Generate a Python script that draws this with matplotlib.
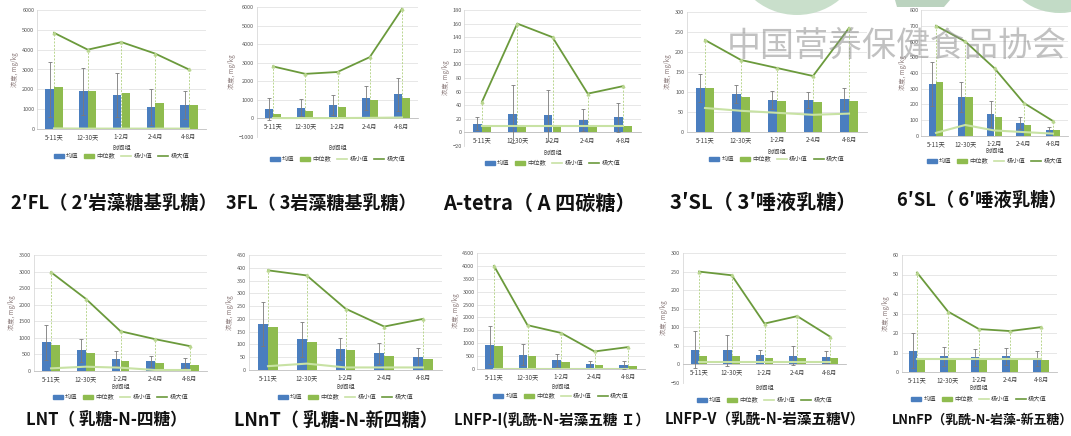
import matplotlib.pyplot as plt
import numpy as np
from matplotlib.patches import Patch, Ellipse, Polygon
from matplotlib.lines import Line2D

plt.rcParams['font.family'] = ['Noto Sans CJK SC', 'DejaVu Sans']

W, H = 1071, 436

groups = ['5-11天', '12-30天', '1-2月', '2-4月', '4-8月']
legend_labels = ['均值', '中位数', '极小值', '极大值']

# values per compound: mean, median, sd, min, max (mg/kg)
fl2_mean = [2000, 1900, 1700, 1100, 1200]
fl2_med = [2100, 1900, 1800, 1300, 1200]
fl2_sd = [1380, 1180, 1100, 900, 700]
fl2_min = [30, 20, 20, 20, 20]
fl2_max = [4850, 4000, 4380, 3800, 3000]

fl3_mean = [500, 580, 730, 1100, 1300]
fl3_med = [230, 400, 620, 980, 1100]
fl3_sd = [600, 450, 550, 630, 900]
fl3_min = [20, 20, 20, 30, 50]
fl3_max = [2800, 2400, 2500, 3300, 5900]

at_mean = [13, 27, 25, 18, 22]
at_med = [9, 9, 9, 9, 10]
at_sd = [9, 43, 37, 16, 21]
at_min = [10, 10, 10, 10, 10]
at_max = [45, 160, 140, 57, 68]

sl3_mean = [110, 95, 80, 80, 83]
sl3_med = [110, 87, 78, 76, 78]
sl3_sd = [35, 23, 22, 20, 27]
sl3_min = [60, 53, 48, 43, 46]
sl3_max = [230, 180, 160, 140, 260]

sl6_mean = [330, 250, 140, 80, 40]
sl6_med = [340, 250, 120, 70, 35]
sl6_sd = [140, 95, 80, 38, 20]
sl6_min = [20, 70, 35, 25, 15]
sl6_max = [700, 600, 430, 210, 95]

lnt_mean = [870, 620, 370, 290, 250]
lnt_med = [790, 550, 290, 250, 190]
lnt_sd = [530, 340, 220, 170, 150]
lnt_min = [80, 130, 100, 30, 30]
lnt_max = [2980, 2180, 1200, 960, 750]

lnnt_mean = [180, 120, 83, 65, 50]
lnnt_med = [170, 110, 80, 55, 45]
lnnt_sd = [85, 68, 44, 40, 37]
lnnt_min = [15, 25, 10, 10, 10]
lnnt_max = [390, 370, 240, 170, 200]

lnfp1_mean = [920, 550, 340, 180, 160]
lnfp1_med = [880, 490, 290, 140, 120]
lnfp1_sd = [740, 410, 260, 140, 150]
lnfp1_min = [10, 10, 10, 10, 10]
lnfp1_max = [4000, 1700, 1400, 680, 850]

lnfp5_mean = [40, 38, 26, 24, 20]
lnfp5_med = [22, 23, 16, 18, 17]
lnfp5_sd = [50, 42, 12, 25, 15]
lnfp5_min = [7, 7, 7, 7, 7]
lnfp5_max = [250, 240, 110, 130, 75]

lnnfp_mean = [11, 8, 7.5, 8, 7]
lnnfp_med = [6, 6, 6, 6, 6]
lnnfp_sd = [9, 5, 4.5, 4.5, 4]
lnnfp_min = [6.5, 6.5, 6.5, 6.5, 6.5]
lnnfp_max = [51, 31, 22, 21, 23]

titles = ['2′FL（ 2′岩藻糖基乳糖）', '3FL（ 3岩藻糖基乳糖）', 'A-tetra（ A 四碳糖）',
          '3′SL（ 3′唾液乳糖）', '6′SL（ 6′唾液乳糖）', 'LNT（ 乳糖-N-四糖）',
          'LNnT（ 乳糖-N-新四糖）', 'LNFP-I(乳酰-N-岩藻五糖 Ｉ）', 'LNFP-V（乳酰-N-岩藻五糖V）',
          'LNnFP（乳酰-N-岩藻-新五糖）']

series = [
    (fl2_mean, fl2_med, fl2_sd, fl2_min, fl2_max),
    (fl3_mean, fl3_med, fl3_sd, fl3_min, fl3_max),
    (at_mean, at_med, at_sd, at_min, at_max),
    (sl3_mean, sl3_med, sl3_sd, sl3_min, sl3_max),
    (sl6_mean, sl6_med, sl6_sd, sl6_min, sl6_max),
    (lnt_mean, lnt_med, lnt_sd, lnt_min, lnt_max),
    (lnnt_mean, lnnt_med, lnnt_sd, lnnt_min, lnnt_max),
    (lnfp1_mean, lnfp1_med, lnfp1_sd, lnfp1_min, lnfp1_max),
    (lnfp5_mean, lnfp5_med, lnfp5_sd, lnfp5_min, lnfp5_max),
    (lnnfp_mean, lnnfp_med, lnnfp_sd, lnnfp_min, lnnfp_max),
]

# pixel layout: first/last category x, top/bottom y, y range, step, title pos & size, xlabel y, legend y
layout = [
    (54, 189, 10, 129, 0, 6000, 1000, 114, 203, 13.2, 148, 156),
    (273, 402, 7, 137, -1000, 6000, 1000, 321, 203, 13, 148, 159),
    (482, 623, 10, 146, -20, 180, 20, 539, 203, 14.5, 153, 163),
    (705, 849, 12, 132, 0, 300, 50, 763, 202, 14.5, 152, 159),
    (936, 1053, 10, 136, 0, 800, 100, 982, 200, 13.2, 151, 161),
    (51, 190, 255, 371, 0, 3500, 500, 106, 420, 12, 387, 397),
    (268, 423, 255, 370, 0, 450, 50, 336, 420, 13, 387, 397),
    (494, 628, 253, 369, 0, 4500, 500, 552, 420, 10.5, 387, 396),
    (699, 830, 253, 383, -50, 300, 50, 765, 420, 10.5, 388, 400),
    (917, 1041, 255, 372, 0, 60, 10, 982, 420, 9.3, 388, 399),
]

blue = '#4a7ebf'
green = '#8fbc4f'
max_c = '#6b9a3c'
min_c = '#c8e2a4'
drop_c = '#b9d68f'

fig = plt.figure(figsize=(W / 100, H / 100), dpi=100)
ov = fig.add_axes([0, 0, 1, 1], zorder=10)
ov.set_xlim(0, W)
ov.set_ylim(H, 0)
ov.axis('off')

x = np.arange(len(groups))
handles = [Patch(color=blue), Patch(color=green),
           Line2D([], [], color=min_c, lw=1.2), Line2D([], [], color=max_c, lw=1.2)]

for (mean, med, sd, mn, mx), lay, title in zip(series, layout, titles):
    c0, c4, yt, yb, ymin, ymax, step, tx, ty, tfs, xly, lgy = lay
    sp = (c4 - c0) / 4
    left, right = c0 - sp / 2, c4 + sp / 2
    ax = fig.add_axes([left / W, 1 - yb / H, (right - left) / W, (yb - yt) / H])
    ax.bar(x - 0.13, mean, 0.25, color=blue, zorder=3)
    ax.bar(x + 0.13, med, 0.25, color=green, zorder=3)
    ax.errorbar(x - 0.13, mean, yerr=sd, fmt='none', ecolor='#7a7a7a',
                elinewidth=0.6, capsize=1.2, capthick=0.6, zorder=4)
    ax.vlines(x, mn, mx, colors=drop_c, linestyles=(0, (2, 1.5)), lw=0.7, zorder=2)
    ax.plot(x, mn, color=min_c, lw=1.5, zorder=5)
    ax.plot(x, mx, color=max_c, lw=1.3, zorder=5)
    ax.plot(x, mx, ls='none', marker='^', ms=2, color=drop_c, zorder=6)
    ax.set_xlim(-0.5, 4.5)
    ax.set_ylim(ymin, ymax)
    ax.set_yticks(np.arange(ymin, ymax + step / 2, step))
    ax.set_xticks(x)
    ax.set_xticklabels(groups)
    ax.yaxis.grid(True, color='#e3e3e3', lw=0.6)
    ax.set_axisbelow(True)
    ax.tick_params(length=0, labelsize=4, colors='#595959', pad=2)
    ax.tick_params(axis='x', labelsize=4.5, colors='#404040', pad=3)
    for s in ['top', 'right']:
        ax.spines[s].set_visible(False)
    ax.spines['left'].set_color('#d9d9d9')
    ax.spines['left'].set_linewidth(0.6)
    ax.spines['bottom'].set_position(('data', 0))
    ax.spines['bottom'].set_color('#bfbfbf')
    ax.spines['bottom'].set_linewidth(0.6)
    ax.set_facecolor('none')
    ax.set_ylabel('浓度, mg/kg', fontsize=4.5, color='#8c7b7b', labelpad=2)
    ax.legend(handles, legend_labels, loc='center', ncol=4, frameon=False,
              fontsize=4.5, handlelength=1.6, handleheight=0.6, handletextpad=0.4,
              columnspacing=0.9, bbox_to_anchor=((left + right) / 2, lgy),
              bbox_transform=ov.transData, labelcolor='#404040')
    ov.text((left + right) / 2, xly, '时间组', fontsize=4.5, color='#404040',
            ha='center', va='center')
    ov.text(tx, ty, title, fontsize=tfs, fontweight='bold', color='#111111',
            ha='center', va='center')

# watermark logo and text
ov.add_patch(Ellipse((797, -50), 132, 130, color='#c3dcc6', alpha=0.9, lw=0))
ov.add_patch(Polygon([(895, 0), (950, 0), (944, 7), (897, 7)], color='#b4cfb8', alpha=0.9, lw=0))
ov.add_patch(Ellipse((1060, -25), 100, 76, color='#bcd7c0', alpha=0.9, lw=0))
ov.text(897, 46, '中国营养保健食品协会', fontsize=24.5, color='#8f8f8f', alpha=0.55,
        ha='center', va='center')

fig.savefig('out.png', dpi=100)
